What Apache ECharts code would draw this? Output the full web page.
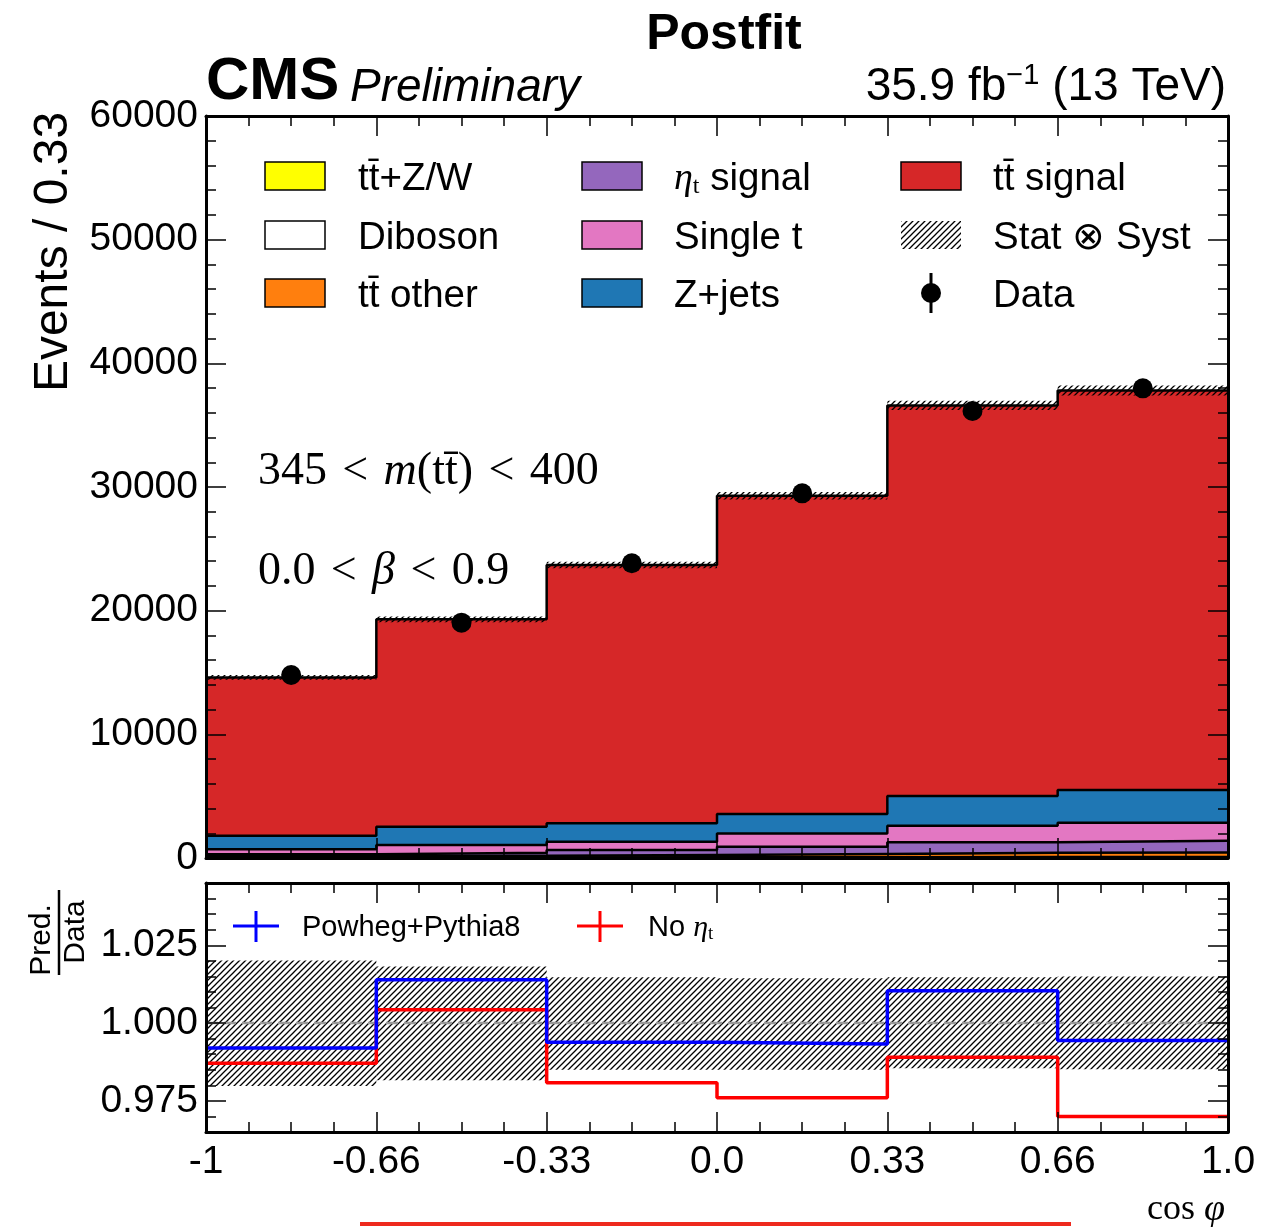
<!DOCTYPE html>
<html><head><meta charset="utf-8">
<script src="https://cdn.jsdelivr.net/npm/echarts@6/dist/echarts.min.js"></script>
<style>html,body{margin:0;padding:0;background:#fff}#c{width:1280px;height:1227px}</style>
</head><body><div id="c"></div>
<script>
// ---------------- data ----------------
const binEdges = [-1, -2/3, -1/3, 0, 1/3, 2/3, 1];
const xTickLabels = ['-1', '-0.66', '-0.33', '0.0', '0.33', '0.66', '1.0'];
// stacked backgrounds (bottom -> top)
const ttZW     = [20, 25, 30, 35, 45, 50];
const diboson  = [15, 20, 25, 30, 35, 40];
const ttOther  = [115, 135, 195, 265, 340, 350];
const etaT     = [150, 250, 400, 580, 850, 960];
const singleT  = [400, 620, 670, 1080, 1340, 1460];
const zJets    = [1100, 1480, 1490, 1560, 2400, 2640];
const ttSignal = [12800, 16770, 20890, 25740, 31590, 32300];
const dataCounts = [14800, 19030, 23830, 29490, 36145, 37980];
const statSystUnc = [190, 230, 260, 300, 380, 400];
// ratio panel
const powhegRatio = [0.9920, 1.0139, 0.9938, 0.9933, 1.0104, 0.9944];
const noEtaRatio  = [0.9871, 1.0043, 0.9808, 0.9760, 0.9890, 0.9700];
const ratioUncLo  = [0.9798, 0.9816, 0.9850, 0.9850, 0.9855, 0.9852];
const ratioUncHi  = [1.0201, 1.0182, 1.0147, 1.0144, 1.0147, 1.0150];
const mainYTicks = [0, 60000, 10000];
const ratioYLabels = [0.975, 1.000, 1.025];

// ---------------- helpers ----------------
const SANS = 'Liberation Sans';
const SERIF = 'Liberation Serif';
function makeHatch(size, lw) {
  const c = document.createElement('canvas'); c.width = size; c.height = size;
  const g = c.getContext('2d'); g.strokeStyle = '#000'; g.lineWidth = lw;
  g.beginPath();
  g.moveTo(0, size); g.lineTo(size, 0);
  g.moveTo(-size / 2, size / 2); g.lineTo(size / 2, -size / 2);
  g.moveTo(size / 2, size * 1.5); g.lineTo(size * 1.5, size / 2);
  g.stroke();
  return c;
}
const hatch = { image: makeHatch(6, 1.3), repeat: 'repeat' };
const stepData = vals => binEdges.map((e, i) => [e, vals[Math.min(i, vals.length - 1)]]);
const centers = binEdges.slice(0, -1).map((e, i) => (e + binEdges[i + 1]) / 2);

const layers = [
  { name: 'tt̄+Z/W', vals: ttZW, color: '#ffff00' },
  { name: 'Diboson', vals: diboson, color: '#ffffff' },
  { name: 'tt̄ other', vals: ttOther, color: '#ff7f0e' },
  { name: 'ηt signal', vals: etaT, color: '#9467bd' },
  { name: 'Single t', vals: singleT, color: '#e377c2' },
  { name: 'Z+jets', vals: zJets, color: '#1f77b4' },
  { name: 'tt̄ signal', vals: ttSignal, color: '#d62728' }
];
const cum = [];
layers.forEach((l, k) => cum.push(l.vals.map((v, i) => v + (k ? cum[k - 1][i] : 0))));
const total = cum[cum.length - 1];

const xMinor = []; for (let k = 0; k <= 24; k++) xMinor.push(-1 + k / 12);
const rMinor = []; for (let k = 0; k <= 16; k++) rMinor.push(Math.round((0.965 + 0.005 * k) * 1000) / 1000);

function xAx(grid, pos, major, labels) {
  return {
    type: 'value', gridIndex: grid, position: pos, min: -1, max: 1, z: 10,
    axisLine: { show: major, onZero: false, lineStyle: { color: '#000', width: 3 } },
    axisTick: { show: true, inside: true, length: major ? 20 : 10, customValues: major ? binEdges : xMinor,
      lineStyle: { color: '#000', width: 1.5 } },
    axisLabel: { show: labels, customValues: binEdges, fontSize: 39, color: '#000', fontFamily: SANS, margin: 11,
      formatter: v => { let b = 0; binEdges.forEach((e, i) => { if (Math.abs(e - v) < Math.abs(binEdges[b] - v)) b = i; }); return xTickLabels[b]; } },
    splitLine: { show: false }
  };
}
function yMain(pos, labels) {
  return {
    type: 'value', gridIndex: 0, position: pos, min: mainYTicks[0], max: mainYTicks[1], interval: mainYTicks[2], z: 10,
    axisLine: { show: true, onZero: false, lineStyle: { color: '#000', width: 3 } },
    axisTick: { show: true, inside: true, length: 20, lineStyle: { color: '#000', width: 1.5 } },
    minorTick: { show: true, splitNumber: 5, length: 10, lineStyle: { color: '#000', width: 1.5 } },
    axisLabel: { show: labels, fontSize: 39, color: '#000', fontFamily: SANS, margin: 8, formatter: v => String(Math.round(v)) },
    splitLine: { show: false }, minorSplitLine: { show: false }
  };
}
function yRatio(pos, major, labels) {
  return {
    type: 'value', gridIndex: 1, position: pos, min: 0.965, max: 1.045, z: 10,
    axisLine: { show: major, onZero: false, lineStyle: { color: '#000', width: 3 } },
    axisTick: { show: true, inside: true, length: major ? 20 : 10, customValues: major ? ratioYLabels : rMinor,
      lineStyle: { color: '#000', width: 1.5 } },
    axisLabel: { show: labels, customValues: ratioYLabels, fontSize: 39, color: '#000', fontFamily: SANS, margin: 8,
      formatter: v => v.toFixed(3) },
    splitLine: { show: false }
  };
}

// ---------------- series ----------------
const series = [];
for (let k = layers.length - 1; k >= 0; k--) {
  series.push({
    name: layers[k].name, type: 'line', xAxisIndex: 0, yAxisIndex: 0, step: 'end',
    data: stepData(cum[k]), symbol: 'none', z: 2 + (layers.length - 1 - k),
    lineStyle: { color: '#000', width: 2.5 }, areaStyle: { color: layers[k].color, opacity: 1 }
  });
}
function bandRender(params, api) {
  const p0 = api.coord([api.value(0), api.value(3)]);
  const p1 = api.coord([api.value(1), api.value(2)]);
  return { type: 'rect', shape: { x: p0[0], y: p0[1], width: p1[0] - p0[0], height: p1[1] - p0[1] },
    style: { fill: hatch, stroke: null } };
}
series.push({
  name: 'Stat ⊗ Syst', type: 'custom', xAxisIndex: 0, yAxisIndex: 0, z: 12,
  encode: { x: [0, 1], y: [2, 3] }, renderItem: bandRender,
  data: total.map((t, i) => [binEdges[i], binEdges[i + 1], t - statSystUnc[i], t + statSystUnc[i]])
});
series.push({
  name: 'Data', type: 'scatter', xAxisIndex: 0, yAxisIndex: 0, z: 20, symbol: 'circle', symbolSize: 20,
  itemStyle: { color: '#000', opacity: 1 }, data: dataCounts.map((v, i) => [centers[i], v])
});
// ratio
series.push({
  name: 'ratio band', type: 'custom', xAxisIndex: 4, yAxisIndex: 2, z: 2,
  encode: { x: [0, 1], y: [2, 3] }, renderItem: bandRender,
  data: ratioUncLo.map((lo, i) => [binEdges[i], binEdges[i + 1], lo, ratioUncHi[i]])
});
series.push({
  name: 'unity', type: 'line', xAxisIndex: 4, yAxisIndex: 2, z: 3, symbol: 'none',
  data: [[binEdges[0], 1], [binEdges[binEdges.length - 1], 1]],
  lineStyle: { color: '#999', width: 2.5, type: [12, 6] }
});
series.push({
  name: 'Powheg+Pythia8', type: 'line', xAxisIndex: 4, yAxisIndex: 2, z: 5, step: 'end', symbol: 'none',
  data: stepData(powhegRatio), lineStyle: { color: '#0000ff', width: 3.5 }
});
series.push({
  name: 'No ηt', type: 'line', xAxisIndex: 4, yAxisIndex: 2, z: 4, step: 'end', symbol: 'none',
  data: stepData(noEtaRatio), lineStyle: { color: '#ff0000', width: 3.5 }
});

// ---------------- graphic (titles, legend) ----------------
const g = [];
function txt(x, y, text, size, opts) {
  g.push(Object.assign({ type: 'text', x: x, y: y, z: 100,
    style: Object.assign({ text: text, fontSize: size, fontFamily: SANS, fill: '#000', align: 'left', verticalAlign: 'middle' }, (opts && opts.style) || {}) },
    (opts && opts.el) || {}));
}
txt(724, 35, 'Postfit', 50, { style: { fontWeight: 'bold', align: 'center' } });
txt(206, 82, 'CMS', 60, { style: { fontWeight: 'bold' } });
txt(350, 88, 'Preliminary', 46, { style: { fontStyle: 'italic' } });
txt(1226, 87, '35.9 fb{s|−1} (13 TeV)', 46, { style: { align: 'right',
  rich: { s: { fontSize: 29, fontFamily: SANS, verticalAlign: 'top', lineHeight: 52 } } } });
txt(54, 252, 'Events / 0.33', 48, { style: { align: 'center' }, el: { rotation: Math.PI / 2 } });
txt(1225, 1210, 'cos {i|φ}', 36, { style: { align: 'right', fontFamily: SERIF,
  rich: { i: { fontFamily: SERIF, fontStyle: 'italic', fontSize: 38 } } } });
const SP = '\u2004';
txt(258, 472, '345' + SP + '<' + SP + '{i|m}(tt̄)' + SP + '<' + SP + '400', 46, { style: { fontFamily: SERIF,
  rich: { i: { fontFamily: SERIF, fontStyle: 'italic', fontSize: 46 } } } });
txt(258, 572, '0.0' + SP + '<' + SP + '{i|β}' + SP + '<' + SP + '0.9', 46, { style: { fontFamily: SERIF,
  rich: { i: { fontFamily: SERIF, fontStyle: 'italic', fontSize: 46 } } } });
// ratio y title
txt(42, 940, 'Pred.', 30, { style: { align: 'center' }, el: { rotation: Math.PI / 2 } });
txt(76, 932, 'Data', 30, { style: { align: 'center' }, el: { rotation: Math.PI / 2 } });
g.push({ type: 'line', z: 100, shape: { x1: 59, y1: 890, x2: 59, y2: 975 }, style: { stroke: '#000', lineWidth: 2.5 } });

// main legend
const legendRows = [176, 235, 293];
const legendCols = [[265, 358], [582, 674], [901, 993]];
const legendItems = [
  [0, 0, 0], [0, 1, 1], [0, 2, 2],
  [1, 0, 3], [1, 1, 4], [1, 2, 5],
  [2, 0, 6]
];
const etaRich = { e: { fontFamily: SERIF, fontStyle: 'italic', fontSize: 38 }, t: { fontFamily: SERIF, fontSize: 24, verticalAlign: 'bottom', lineHeight: 40 } };
legendItems.forEach(([c, r, k]) => {
  const L = layers[k];
  g.push({ type: 'rect', z: 100, shape: { x: legendCols[c][0], y: legendRows[r] - 14, width: 60, height: 28 },
    style: { fill: L.color, stroke: '#000', lineWidth: 1.5 } });
  const label = k === 3 ? '{e|η}{t|t} signal' : L.name;
  txt(legendCols[c][1], legendRows[r] + 3, label, 38.5, { style: { rich: etaRich } });
});
g.push({ type: 'rect', z: 100, shape: { x: legendCols[2][0], y: legendRows[1] - 14, width: 60, height: 28 },
  style: { fill: hatch, stroke: null } });
txt(legendCols[2][1], legendRows[1] + 3, 'Stat ⊗ Syst', 38.5);
g.push({ type: 'line', z: 100, shape: { x1: 931, y1: legendRows[2] - 20, x2: 931, y2: legendRows[2] + 20 }, style: { stroke: '#000', lineWidth: 3 } });
g.push({ type: 'circle', z: 100, shape: { cx: 931, cy: legendRows[2], r: 10 }, style: { fill: '#000' } });
txt(legendCols[2][1], legendRows[2] + 3, 'Data', 38.5);

// ratio legend
[[256, '#0000ff', 302, 'Powheg+Pythia8'], [600, '#ff0000', 648, 'No {e|η}{t|t}']].forEach(([cx, col, tx, label]) => {
  g.push({ type: 'line', z: 100, shape: { x1: cx - 23, y1: 926, x2: cx + 23, y2: 926 }, style: { stroke: col, lineWidth: 3 } });
  g.push({ type: 'line', z: 100, shape: { x1: cx, y1: 911, x2: cx, y2: 942 }, style: { stroke: col, lineWidth: 3 } });
  txt(tx, 928, label, 29, { style: { rich: { e: { fontFamily: SERIF, fontStyle: 'italic', fontSize: 30 }, t: { fontFamily: SERIF, fontSize: 19, verticalAlign: 'bottom', lineHeight: 32 } } } });
});
// stray red rule at bottom
g.push({ type: 'line', z: 100, shape: { x1: 360, y1: 1224, x2: 1071, y2: 1224 }, style: { stroke: '#ee2a1e', lineWidth: 4 } });

const option = {
  animation: false,
  backgroundColor: '#fff',
  grid: [
    { left: 206, top: 116, width: 1022, height: 742, containLabel: false },
    { left: 206, top: 883, width: 1022, height: 249, containLabel: false }
  ],
  xAxis: [
    xAx(0, 'bottom', true, false), xAx(0, 'bottom', false, false),
    xAx(0, 'top', true, false), xAx(0, 'top', false, false),
    xAx(1, 'bottom', true, true), xAx(1, 'bottom', false, false),
    xAx(1, 'top', true, false), xAx(1, 'top', false, false)
  ],
  yAxis: [
    yMain('left', true), yMain('right', false),
    yRatio('left', true, true), yRatio('left', false, false),
    yRatio('right', true, false), yRatio('right', false, false)
  ],
  series: series,
  graphic: g
};
const chart = echarts.init(document.getElementById('c'), null, { renderer: 'canvas' });
chart.setOption(option);
</script></body></html>
